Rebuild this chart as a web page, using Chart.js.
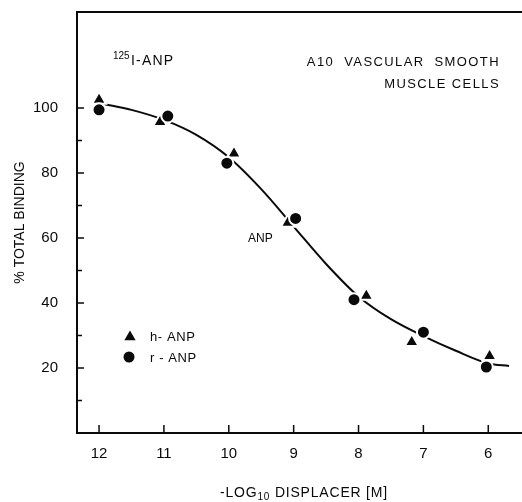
<!DOCTYPE html>
<html>
<head>
<meta charset="utf-8">
<script src="https://cdn.jsdelivr.net/npm/chart.js@4.4.1/dist/chart.umd.min.js"></script>
<style>
	html, body { margin: 0; padding: 0; background: #fff; overflow: hidden; }
	#wrap { width: 522px; height: 502px; position: relative; }
	#chart { display: block; }
</style>
</head>
<body>
<div id="wrap"><canvas id="chart"></canvas></div>
<script>

//
// data
//

// -log10 displacer [M] and % total binding, h-ANP (triangles)
const hAnpX = [12, 11.06, 9.92, 9.09, 7.88, 7.18, 5.98];
const hAnpY = [102.5, 95.7, 86, 64.7, 42.2, 28, 23.7];

// r-ANP (circles)
const rAnpX = [12, 10.94, 10.03, 8.97, 8.07, 7.0, 6.03];
const rAnpY = [99.4, 97.5, 83, 66, 41, 31, 20.3];

// the fitted displacement curve
const fitX = [11.94, 11.5, 11, 10.5, 10, 9.5, 9, 8.5, 8, 7.5, 7, 6.5, 6, 5.68];
const fitY = [101.2, 99.4, 96.3, 91.7, 84.8, 75, 63.5, 52, 42, 35, 29.8, 25.3, 21.4, 20.6];

// axis ticks
const xTicks = [12, 11, 10, 9, 8, 7, 6];
const yTickLabels = [20, 40, 60, 80, 100];

const ink = '#0a0a0a';
const font = 'Liberation Sans, Arial, Helvetica, sans-serif';

function toPoints(xs, ys) {
	return xs.map((x, i) => ({x: x, y: ys[i]}));
}

//
// extra drawing: frame top, inward ticks, labels, legend
//

const decorations = {
	id: 'decorations',
	afterDraw: function(chart) {
		const ctx = chart.ctx;
		const a = chart.chartArea;
		const x = chart.scales.x;
		const y = chart.scales.y;

		ctx.save();
		ctx.strokeStyle = ink;
		ctx.fillStyle = ink;

		// top edge of frame
		//
		ctx.lineWidth = 2;
		ctx.beginPath();
		ctx.moveTo(a.left - 1, a.top);
		ctx.lineTo(chart.width, a.top);
		ctx.stroke();

		// inward tick marks
		//
		ctx.lineWidth = 1.5;
		ctx.beginPath();
		x.ticks.forEach(function(t) {
			let px = x.getPixelForValue(t.value);
			ctx.moveTo(px, a.bottom);
			ctx.lineTo(px, a.bottom - 8);
		});
		y.ticks.forEach(function(t) {
			if (t.value <= 0 || t.value > 100) {
				return;
			}
			let py = y.getPixelForValue(t.value);
			ctx.moveTo(a.left, py);
			ctx.lineTo(a.left + (t.value % 20 ? 5 : 7), py);
		});
		ctx.stroke();

		// annotations
		//
		ctx.textBaseline = 'alphabetic';
		ctx.textAlign = 'left';
		ctx.font = '10px ' + font;
		ctx.fillText('125', 113, 59);
		ctx.font = '14px ' + font;
		ctx.letterSpacing = '1.2px';
		ctx.fillText('I-ANP', 131, 65);

		ctx.font = '13px ' + font;
		ctx.letterSpacing = '1.4px';
		ctx.textAlign = 'right';
		ctx.fillText('A10  VASCULAR  SMOOTH', 500, 66);
		ctx.fillText('MUSCLE CELLS', 500, 88);
		ctx.letterSpacing = '0px';

		ctx.textAlign = 'left';
		ctx.font = '12px ' + font;
		ctx.fillText('ANP', 248, 242);

		// legend
		//
		let sets = chart.data.datasets;
		Chart.helpers.drawPoint(ctx, {pointStyle: 'triangle', radius: 6.5, rotation: 0, borderWidth: 0}, 130, 337);
		Chart.helpers.drawPoint(ctx, {pointStyle: 'circle', radius: 5.5, rotation: 0, borderWidth: 0}, 129, 357);
		ctx.font = '13px ' + font;
		ctx.letterSpacing = '0.6px';
		ctx.fillText(sets[1].label, 150, 341);
		ctx.fillText(sets[2].label, 150, 362);

		// x axis title with subscript
		//
		let parts = [['-LOG', 14, 0], ['10', 10, 3], [' DISPLACER [M]', 14, 0]];
		ctx.letterSpacing = '0.8px';
		let width = 0;
		parts.forEach(function(p) {
			ctx.font = p[1] + 'px ' + font;
			width += ctx.measureText(p[0]).width;
		});
		let cx = 304 - width / 2;
		parts.forEach(function(p) {
			ctx.font = p[1] + 'px ' + font;
			ctx.fillText(p[0], cx, 497 + p[2]);
			cx += ctx.measureText(p[0]).width;
		});
		ctx.restore();
	}
};

//
// chart
//

new Chart(document.getElementById('chart'), {
	type: 'scatter',
	data: {
		datasets: [{
			label: 'fit',
			data: toPoints(fitX, fitY),
			showLine: true,
			cubicInterpolationMode: 'monotone',
			borderColor: ink,
			borderWidth: 2,
			pointRadius: 0,
			order: 3
		}, {
			label: 'h- ANP',
			data: toPoints(hAnpX, hAnpY),
			pointStyle: 'triangle',
			pointRadius: 8,
			backgroundColor: ink,
			borderColor: '#fff',
			borderWidth: 2,
			order: 2
		}, {
			label: 'r - ANP',
			data: toPoints(rAnpX, rAnpY),
			pointStyle: 'circle',
			pointRadius: 6.5,
			backgroundColor: ink,
			borderColor: '#fff',
			borderWidth: 2,
			order: 1
		}]
	},
	options: {
		responsive: true,
		maintainAspectRatio: false,
		animation: false,
		layout: {
			autoPadding: false,
			padding: {top: 12, right: 0, bottom: 0, left: 0}
		},
		plugins: {
			legend: {
				display: false
			},
			tooltip: {
				enabled: false
			}
		},
		scales: {
			x: {
				type: 'linear',
				reverse: true,
				min: 5.48,
				max: 12.34,
				afterBuildTicks: function(scale) {
					scale.ticks = xTicks.map(v => ({value: v}));
				},
				afterFit: function(scale) {
					scale.height = 69;
					scale.paddingLeft = 0;
					scale.paddingRight = 0;
				},
				grid: {
					display: false,
					drawTicks: false
				},
				border: {
					display: true,
					color: ink,
					width: 2
				},
				ticks: {
					padding: 12,
					color: ink,
					font: {family: font, size: 15}
				}
			},
			y: {
				type: 'linear',
				min: 0,
				max: 129.5,
				afterFit: function(scale) {
					scale.width = 77;
					scale.paddingTop = 0;
					scale.paddingBottom = 0;
				},
				grid: {
					display: false,
					drawTicks: false
				},
				border: {
					display: true,
					color: ink,
					width: 2
				},
				ticks: {
					stepSize: 10,
					padding: 19,
					color: ink,
					font: {family: font, size: 15},
					callback: function(value) {
						return yTickLabels.includes(value) ? String(value) : '';
					}
				},
				title: {
					display: true,
					text: '% TOTAL BINDING',
					color: ink,
					font: {family: font, size: 14},
					padding: {top: 12, bottom: 0}
				}
			}
		}
	},
	plugins: [decorations]
});
</script>
</body>
</html>
